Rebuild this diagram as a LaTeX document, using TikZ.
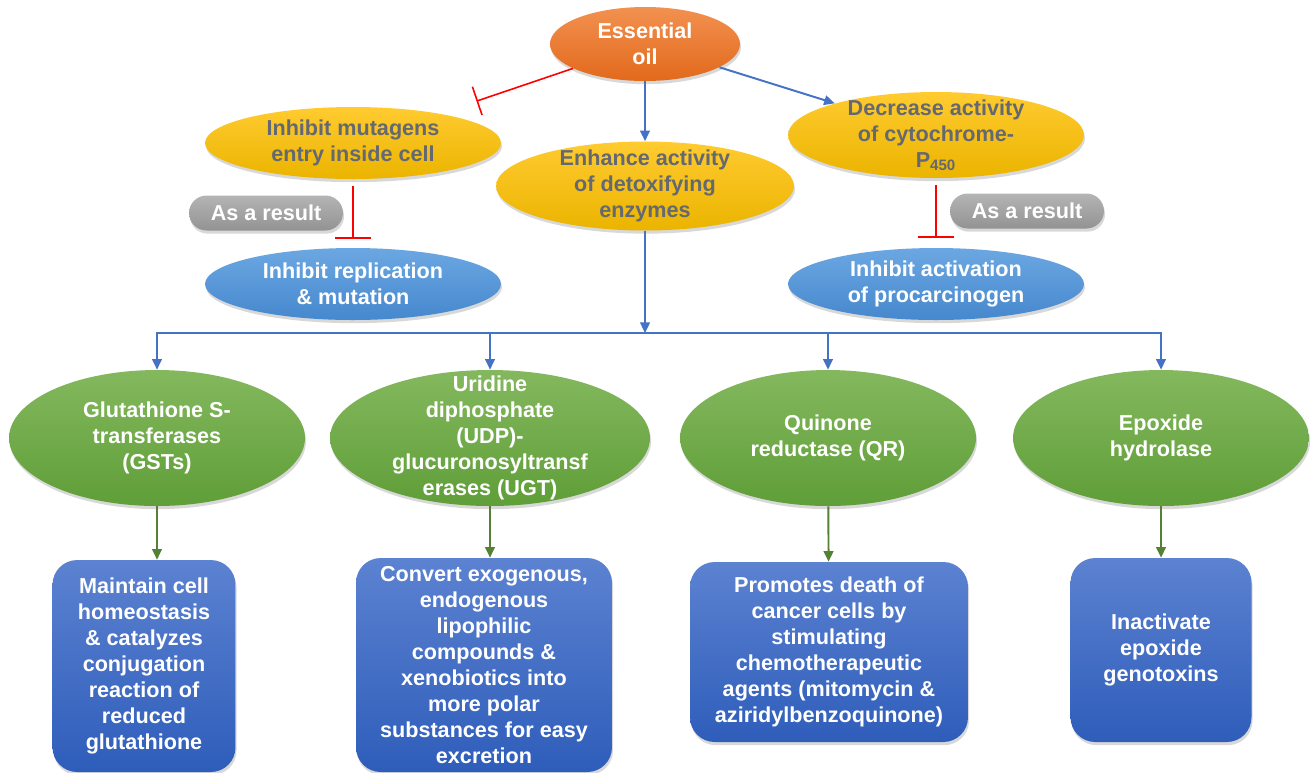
\documentclass[tikz,border=0pt]{standalone}
\usepackage{fontspec}
\setmainfont{Liberation Sans}
\usepackage{tikz}
\usetikzlibrary{arrows.meta, positioning, calc, shapes.geometric, shadows}
\usepackage{xcolor}

\definecolor{oiltop}{HTML}{F29150}
\definecolor{oilbot}{HTML}{E2691C}
\definecolor{yeltop}{HTML}{FFCB30}
\definecolor{yelbot}{HTML}{EBB400}
\definecolor{yeltext}{HTML}{646870}
\definecolor{bltop}{HTML}{6BA7E2}
\definecolor{blbot}{HTML}{4688CE}
\definecolor{pilltop}{HTML}{B4B4B4}
\definecolor{pillbot}{HTML}{939393}
\definecolor{grtop}{HTML}{84B85E}
\definecolor{grbot}{HTML}{5F9E38}
\definecolor{bxtop}{HTML}{5C82D1}
\definecolor{bxbot}{HTML}{2E5DBA}
\definecolor{arrblue}{HTML}{4472C4}
\definecolor{arrgreen}{HTML}{548235}

\begin{document}
\begin{tikzpicture}[x=0.02cm, y=-0.02cm,
  font=\fontsize{12.3}{14.8}\selectfont\bfseries,
  base/.style={align=center, drop shadow={shadow xshift=0.6pt, shadow yshift=-1.8pt, opacity=0.3}},
  oval/.style={base, ellipse, inner sep=-1cm},
  oilnode/.style={oval, top color=oiltop, bottom color=oilbot, text=white, minimum width=3.8cm, minimum height=1.48cm},
  yellownode/.style={oval, top color=yeltop, bottom color=yelbot, text=yeltext, minimum width=5.92cm},
  bluenode/.style={oval, top color=bltop, bottom color=blbot, text=white, minimum width=5.92cm, minimum height=1.44cm},
  pill/.style={base, rectangle, rounded corners=10pt, top color=pilltop, bottom color=pillbot, text=white, minimum width=3.08cm, minimum height=0.7cm, inner sep=0pt},
  enzyme/.style={oval, top color=grtop, bottom color=grbot, text=white, minimum width=5.92cm, minimum height=2.72cm},
  effect/.style={base, rectangle, rounded corners=14pt, top color=bxtop, bottom color=bxbot, text=white, inner sep=0pt},
  bluearr/.style={-{Triangle[length=6pt, width=5.5pt]}, arrblue, line width=1.1pt},
  greenarr/.style={-{Triangle[length=6pt, width=5.5pt]}, arrgreen, line width=1.1pt},
  blockarr/.style={-{Bar[width=20pt]}, red, line width=0.9pt}
]
  \useasboundingbox (0,0) rectangle (1310,772);
  \fill[white] (0,0) rectangle (1310,772);

  \node[oilnode] (oil) at (645,44) {Essential\\oil};
  \node[yellownode, minimum height=1.44cm] (mutag) at (353,143) {Inhibit mutagens\\entry inside cell};
  \node[yellownode, minimum width=5.96cm, minimum height=1.78cm] (enhance) at (645,186) {Enhance activity\\of detoxifying\\enzymes};
  \node[yellownode, minimum height=1.72cm] (cyto) at (936,135) {Decrease activity\\of cytochrome-\\P\textsubscript{450}};
  \node[bluenode] (replic) at (353,284) {Inhibit replication\\\& mutation};
  \node[bluenode] (activ) at (936,284) {Inhibit activation\\of procarcinogen};
  \node[pill] (res1) at (266,213) {As a result};
  \node[pill] (res2) at (1027,211) {As a result};

  \node[enzyme] (gst) at (157,438) {Glutathione S-\\transferases\\(GSTs)};
  \node[enzyme, minimum width=6.4cm] (ugt) at (490,438) {Uridine\\diphosphate\\(UDP)-\\glucuronosyltransf\\erases (UGT)};
  \node[enzyme] (qr) at (828,438) {Quinone\\reductase (QR)};
  \node[enzyme] (eh) at (1161,438) {Epoxide\\hydrolase};

  \node[effect, minimum width=3.66cm, minimum height=4.24cm] (gstbox) at (144,666) {Maintain cell\\homeostasis\\\& catalyzes\\conjugation\\reaction of\\reduced\\glutathione};
  \node[effect, minimum width=5.12cm, minimum height=4.28cm] (ugtbox) at (484,665) {Convert exogenous,\\endogenous\\lipophilic\\compounds \&\\xenobiotics into\\more polar\\substances for easy\\excretion};
  \node[effect, minimum width=5.56cm, minimum height=3.6cm] (qrbox) at (829,652) {Promotes death of\\cancer cells by\\stimulating\\chemotherapeutic\\agents (mitomycin \&\\aziridylbenzoquinone)};
  \node[effect, minimum width=3.62cm, minimum height=3.68cm] (ehbox) at (1161,650) {Inactivate\\epoxide\\genotoxins};

  \coordinate (bus) at (645,333);

  \draw[bluearr] (oil) -- (enhance);
  \draw[bluearr] (oil) -- (cyto);
  \draw[blockarr, -{Bar[width=17pt]}, shorten >=22pt] (oil) -- (mutag);
  \draw[blockarr, shorten <=4pt, shorten >=5pt] (mutag) -- (replic);
  \draw[blockarr, shorten <=4pt, shorten >=5.7pt] (cyto) -- (activ);

  \draw[bluearr] (enhance) -- (bus);
  \draw[bluearr] (bus) -| (gst);
  \draw[bluearr] (bus) -| (ugt);
  \draw[bluearr] (bus) -| (qr);
  \draw[bluearr] (bus) -| (eh);

  \draw[greenarr] (gst) -- (gst |- gstbox.north);
  \draw[greenarr] (ugt) -- (ugt |- ugtbox.north);
  \draw[greenarr] (qr) -- (qrbox);
  \draw[greenarr] (eh) -- (ehbox);
\end{tikzpicture}
\end{document}
